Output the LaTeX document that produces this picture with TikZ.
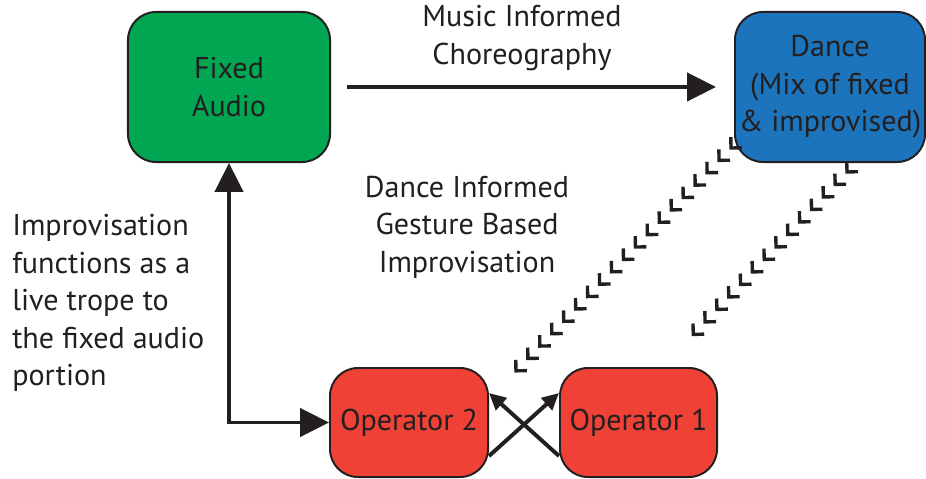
\documentclass[tikz,border=0pt]{standalone}
\usepackage{fontspec}
\setmainfont{PT Sans}
\usetikzlibrary{arrows.meta,positioning,calc,decorations.markings}

\definecolor{inkblack}{HTML}{231F20}
\definecolor{audiogreen}{HTML}{00A651}
\definecolor{danceblue}{HTML}{1C75BC}
\definecolor{opred}{HTML}{EF4136}

\tikzset{
  block/.style={draw=inkblack, line width=1.4pt, rounded corners=0.7cm, align=center,
    inner sep=0pt, text=inkblack},
  label/.style={align=center, inner sep=0pt, text=inkblack},
  bigtip/.tip={Triangle[length=0.72cm,width=0.7cm]},
  smalltip/.tip={Triangle[length=0.42cm,width=0.4cm]},
  flow/.style={line width=2.8pt, draw=inkblack, -bigtip},
  swap/.style={line width=2.8pt, draw=inkblack, -smalltip},
  chevrons/.style={postaction={decorate}, decoration={markings,
    mark=between positions 0 and 1 step 0.43cm with {
      \draw[inkblack, line width=2.4pt, line join=miter] (-5.5pt,5.5pt) -- (0,0) -- (-5.5pt,-5.5pt);}}}
}

\begin{document}
\begin{tikzpicture}[x=0.025cm, y=-0.025cm, font=\fontsize{21.4}{26.6}\selectfont]
\useasboundingbox (0,0) rectangle (926,479);

% boxes
\node (fixed) at (229,87) [block, fill=audiogreen, minimum width=5.05cm, minimum height=3.75cm] {Fixed\\Audio};
\node (dance) at (830,87) [block, fill=danceblue, minimum width=4.75cm, minimum height=3.75cm] {Dance\\(Mix of fixed\\\& improvised)};
\node (optwo) at (409,422.5) [block, fill=opred, minimum width=3.95cm, minimum height=2.725cm] {Operator 2};
\node (opone) at (638.5,422.5) [block, fill=opred, minimum width=3.925cm, minimum height=2.725cm] {Operator 1};

% labels
\node (lblmusic) at (522,38) [label] {Music Informed\\Choreography};
\node (lbldance) at (467,227) [label] {Dance Informed\\Gesture Based\\Improvisation};
\node (lblimpro) at (12,303) [label, anchor=west, align=left] {Improvisation\\functions as a\\live trope to\\the fixed audio\\portion};

% connectors
\draw[flow, shorten <=0.4cm, shorten >=0.45cm] (fixed) -- (dance);
\draw[flow, {bigtip}-{bigtip}, line join=miter] (fixed.south) |- (optwo.west);
\draw[swap] ($(optwo.south east)+(0,-22)$) -- ($(opone.north west)+(0,26)$);
\draw[swap] ($(opone.south west)+(0,-22)$) -- ($(optwo.north east)+(0,26)$);

% gesture links
\coordinate (g1a) at (731,148);
\coordinate (g1b) at (510,377);
\coordinate (g2a) at (847,172);
\coordinate (g2b) at (688,340);
\path[chevrons] (g1a) -- (g1b);
\path[chevrons] (g2a) -- (g2b);
\end{tikzpicture}
\end{document}
